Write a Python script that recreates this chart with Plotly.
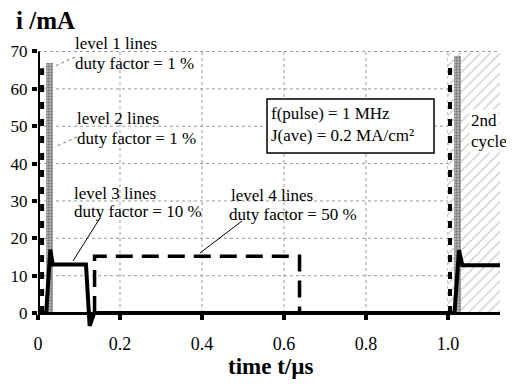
import plotly.graph_objects as go

# ---------------- data ----------------
# level 1 lines (thick dashed spikes), duty factor 1 %
level1_t = [0.010, 1.005]
level1_peak = [65.5, 66.0]

# level 2 lines (stippled narrow bars), duty factor 1 %
level2_start = [0.020, 1.014]
level2_end = [0.036, 1.032]
level2_peak = [67.0, 68.8]

# level 3 lines (solid), duty factor 10 %
level3_t = [0.0, 0.020, 0.030, 0.036, 0.117, 0.126, 0.137, 1.0, 1.016, 1.027, 1.035, 1.127]
level3_i = [0.0, 0.0, 17.0, 13.0, 13.0, -3.4, 0.0, 0.0, 0.0, 16.8, 12.8, 12.8]

# level 4 lines (long dashes), duty factor 50 %
level4_t = [0.138, 0.138, 0.638, 0.638]
level4_i = [0.0, 15.2, 15.2, 0.0]

# second cycle shaded region
cycle2_start, cycle2_end, cycle2_top = 1.0, 1.127, 69.5

x_ticks = [0, 0.2, 0.4, 0.6, 0.8, 1.0]
x_tick_text = ["0", "0.2", "0.4", "0.6", "0.8", "1.0"]
y_ticks = [0, 10, 20, 30, 40, 50, 60, 70]

# ---------------- layout helpers ----------------
OFF = 8  # page body margin of the browser
W, H = 514 - OFF, 386 - OFF
# target plot area in window pixels: x 38..500, y 50..328
L, R, T, B = 38 - OFF, 514 - 500, 50 - OFF, 386 - 328
XMAX = 1.127
YMIN, YMAX = -4.0, 70.4
FONT = "Liberation Serif"
TEXT_PAD = 3  # annotation inner padding


def px(xp):
    return (xp - OFF - L) / (W - L - R)


def py(yp):
    return (H - B - (yp - OFF)) / (H - T - B)


fig = go.Figure()

# second cycle hatched region
fig.add_trace(go.Bar(
    x=[(cycle2_start + cycle2_end) / 2], y=[cycle2_top], base=0,
    width=[cycle2_end - cycle2_start],
    marker=dict(color="white", line=dict(width=0),
                pattern=dict(shape="/", fgcolor="#7a7a7a", bgcolor="white", size=7, solidity=0.15)),
    showlegend=False, hoverinfo="skip"))

# level 2 stippled bars
fig.add_trace(go.Bar(
    x=[(s + e) / 2 for s, e in zip(level2_start, level2_end)],
    y=level2_peak, base=0,
    width=[e - s for s, e in zip(level2_start, level2_end)],
    marker=dict(color="#a8a8a8", line=dict(width=0),
                pattern=dict(shape=".", fgcolor="#3a3a3a", bgcolor="#bcbcbc", size=3, solidity=0.5)),
    showlegend=False, hoverinfo="skip"))

# level 1 dashed spikes
l1x, l1y = [], []
for t, p in zip(level1_t, level1_peak):
    l1x += [t, t, None]
    l1y += [0, p, None]
fig.add_trace(go.Scatter(x=l1x, y=l1y, mode="lines",
                         line=dict(color="black", width=4, dash="7px,10px"),
                         showlegend=False, hoverinfo="skip"))

# level 4 dashed
fig.add_trace(go.Scatter(x=level4_t, y=level4_i, mode="lines",
                         line=dict(color="black", width=3.5, dash="17px,9px"),
                         showlegend=False, hoverinfo="skip"))

# level 3 solid
fig.add_trace(go.Scatter(x=level3_t, y=level3_i, mode="lines",
                         line=dict(color="black", width=4),
                         showlegend=False, hoverinfo="skip"))

shapes = []
# gridlines
for xv in x_ticks[1:]:
    shapes.append(dict(type="line", xref="x", yref="y", x0=xv, x1=xv, y0=0, y1=70,
                       line=dict(color="#9a9a9a", width=1, dash="dot"), layer="below"))
for yv in y_ticks[1:]:
    shapes.append(dict(type="line", xref="x", yref="y", x0=0, x1=XMAX, y0=yv, y1=yv,
                       line=dict(color="#9a9a9a", width=1, dash="dot"), layer="below"))
# y axis line
shapes.append(dict(type="line", xref="x", yref="y", x0=0, x1=0, y0=0, y1=70,
                   line=dict(color="black", width=4)))
# pointers
pointers = [((75, 57), (53, 67), "dot", "#777", 1),
            ((77, 137), (55, 147), "dot", "#777", 1),
            ((100, 218), (73, 261), "solid", "black", 1),
            ((242, 221), (200, 253), "solid", "black", 1)]
for (x0, y0), (x1, y1), d, c, w in pointers:
    shapes.append(dict(type="line", xref="paper", yref="paper",
                       x0=px(x0), y0=py(y0), x1=px(x1), y1=py(y1),
                       line=dict(color=c, width=w, dash=d)))
# info box
shapes.append(dict(type="rect", xref="paper", yref="paper",
                   x0=px(267), x1=px(434), y0=py(99), y1=py(153),
                   line=dict(color="black", width=1.5), fillcolor="white"))

ann = []


def text(s, x, y, size=17, bold=False, bg=None):
    d = dict(text=("<b>%s</b>" % s) if bold else s, xref="paper", yref="paper",
             x=px(x - TEXT_PAD), y=py(y), xanchor="left", yanchor="middle", showarrow=False,
             font=dict(family=FONT, size=size, color="black"))
    if bg:
        d["bgcolor"] = bg
    ann.append(d)


text("level 1 lines", 76, 44)
text("duty factor = 1 %", 76, 63)
text("level 2 lines", 78, 118)
text("duty factor = 1 %", 78, 138)
text("level 3 lines", 75, 193)
text("duty factor = 10 %", 75, 212)
text("level 4 lines", 232, 195)
text("duty factor = 50 %", 230, 214)
text("f(pulse) = 1 MHz", 272, 113)
text("J(ave) = 0.2 MA/cm²", 272, 135)
text("2nd", 472, 120, bg="white")
text("cycle", 472, 141, bg="white")
text("i /mA", 17, 20, size=25, bold=True)
text("time t/µs", 229, 366, size=23, bold=True)

fig.update_layout(
    width=W, height=H, margin=dict(l=L, r=R, t=T, b=B, autoexpand=False),
    plot_bgcolor="white", paper_bgcolor="white",
    barmode="overlay", bargap=0,
    shapes=shapes, annotations=ann,
    xaxis=dict(range=[0, XMAX], anchor="free", position=(0 - YMIN) / (YMAX - YMIN),
               automargin=False,
               showline=True, linecolor="black", linewidth=3,
               ticks="outside", ticklen=5, tickwidth=4, tickcolor="black",
               tickvals=x_ticks, ticktext=x_tick_text, showgrid=False, zeroline=False,
               tickfont=dict(family=FONT, size=18, color="black"), ticklabelstandoff=8),
    yaxis=dict(range=[YMIN, YMAX], showline=False, automargin=False,
               ticks="outside", ticklen=5, tickwidth=4, tickcolor="black",
               tickvals=y_ticks, showgrid=False, zeroline=False,
               tickfont=dict(family=FONT, size=17, color="black"), ticklabelstandoff=1),
)

fig.write_html("out.html")
